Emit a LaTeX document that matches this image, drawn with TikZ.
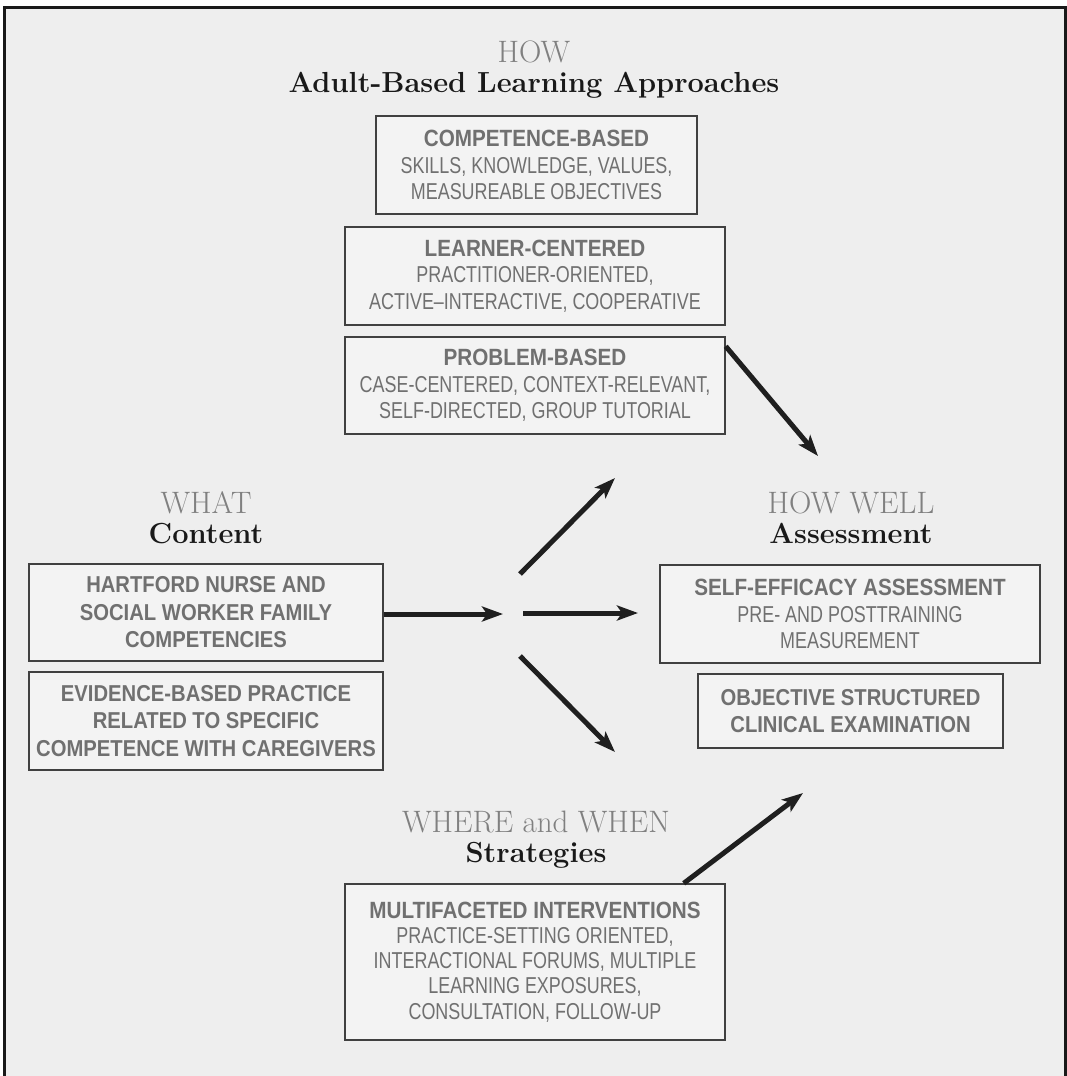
\documentclass[tikz,border=0pt]{standalone}
\usepackage{fontspec}
\usetikzlibrary{arrows.meta}
\newfontfamily\cond[FakeStretch=0.78,BoldFeatures={FakeStretch=0.88}]{Liberation Sans}
\definecolor{bggray}{HTML}{EEEEEE}
\definecolor{boxfill}{HTML}{F3F3F3}
\definecolor{boxline}{HTML}{404040}
\definecolor{txtgray}{HTML}{707070}
\definecolor{headgray}{HTML}{808080}
\newcommand{\bt}[1]{{\bfseries\fontsize{23.5}{26.5}\selectfont #1}}
\tikzset{
  box/.style={draw=boxline, fill=boxfill, line width=1.4pt, inner sep=0pt, align=center,
    text=txtgray, font=\cond\fontsize{23}{26.5}\selectfont},
  bbox/.style={box, font=\cond\bfseries\fontsize{23}{27.5}\selectfont},
  arr/.style={line width=5pt, draw=black!88, -{Stealth[length=21pt,width=15pt,inset=5pt]}},
  hlight/.style={text=headgray, font=\fontsize{31}{33}\selectfont, inner sep=0pt, anchor=base},
  hbold/.style={text=black!90, font=\bfseries\fontsize{29}{31}\selectfont, inner sep=0pt, anchor=base}
}
\begin{document}
\begin{tikzpicture}[x=1pt,y=-1pt]
\useasboundingbox (0,0) rectangle (1066,1076);
\fill[bggray] (5,7) rectangle (1066,1076);
\draw[line width=3pt, black!90] (4.8,1076) -- (4.8,7.3) -- (1065,7.3) -- (1065,1076);

% headings
\node[hlight] (howT) at (534,62) {HOW};
\node[hbold] (howB) at (534,92) {Adult-Based Learning Approaches};
\node[hlight] (whatT) at (206,513) {WHAT};
\node[hbold] (whatB) at (206,543) {Content};
\node[hlight] (wellT) at (851,513) {HOW WELL};
\node[hbold] (wellB) at (851,543) {Assessment};
\node[hlight] (whereT) at (536,832) {WHERE and WHEN};
\node[hbold] (whereB) at (536,862) {Strategies};

% HOW boxes
\node[box, minimum width=321pt, minimum height=98pt] (comp) at (536.5,165)
  {\bt{COMPETENCE-BASED}\\SKILLS, KNOWLEDGE, VALUES,\\MEASUREABLE OBJECTIVES};
\node[box, minimum width=380pt, minimum height=98pt] (learn) at (535,276)
  {\bt{LEARNER-CENTERED}\\PRACTITIONER-ORIENTED,\\ACTIVE–INTERACTIVE, COOPERATIVE};
\node[box, minimum width=380pt, minimum height=97pt] (prob) at (535,385.5)
  {\bt{PROBLEM-BASED}\\CASE-CENTERED, CONTEXT-RELEVANT,\\SELF-DIRECTED, GROUP TUTORIAL};

% WHAT boxes
\node[bbox, minimum width=354pt, minimum height=97pt] (hart) at (206,612.5)
  {HARTFORD NURSE AND\\SOCIAL WORKER FAMILY\\COMPETENCIES};
\node[bbox, minimum width=354pt, minimum height=98pt] (evid) at (206,721)
  {EVIDENCE-BASED PRACTICE\\RELATED TO SPECIFIC\\COMPETENCE WITH CAREGIVERS};

% HOW WELL boxes
\node[box, minimum width=380pt, minimum height=98pt] (self) at (850,614)
  {\bt{SELF-EFFICACY ASSESSMENT}\\PRE- AND POSTTRAINING\\MEASUREMENT};
\node[bbox, minimum width=305pt, minimum height=74pt] (osce) at (850.5,711)
  {OBJECTIVE STRUCTURED\\CLINICAL EXAMINATION};

% WHERE box
\node[box, minimum width=380pt, minimum height=156pt, font=\cond\fontsize{23}{25.2}\selectfont] (multi) at (535,962)
  {\bt{MULTIFACETED INTERVENTIONS}\\PRACTICE-SETTING ORIENTED,\\INTERACTIONAL FORUMS, MULTIPLE\\LEARNING EXPOSURES,\\CONSULTATION, FOLLOW-UP};

% connector coordinates
\coordinate (hubIn) at (503,614);
\coordinate (upS) at (520,574);
\coordinate (upE) at (615,478);
\coordinate (rtS) at (523,613);
\coordinate (rtE) at (638,613);
\coordinate (dnS) at (520,656);
\coordinate (dnE) at (615,752);
\coordinate (wellIn) at (818,456);
\coordinate (stratE) at (803,793);

% arrows
\draw[arr] ([yshift=-10pt]prob.north east) -- (wellIn);
\draw[arr] (hart.east |- hubIn) -- (hubIn);
\draw[arr] (upS) -- (upE);
\draw[arr] (rtS) -- (rtE);
\draw[arr] (dnS) -- (dnE);
\draw[arr] ([xshift=-42pt]multi.north east) -- (stratE);
\end{tikzpicture}
\end{document}
